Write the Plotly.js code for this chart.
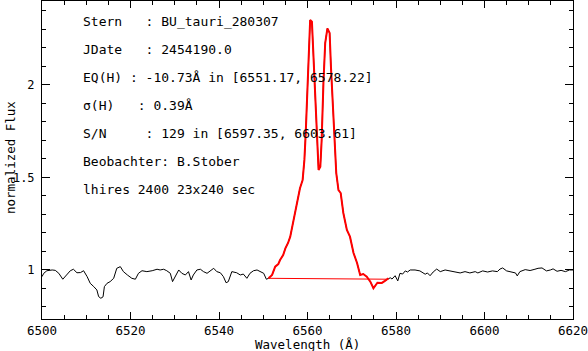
<!DOCTYPE html>
<html>
<head>
<meta charset="utf-8">
<script src="https://cdn.plot.ly/plotly-3.0.1.min.js"></script>
<style>html,body{margin:0;padding:0;background:#fff}#chart{width:588px;height:351px}</style>
</head>
<body>
<div id="chart"></div>
<script>
// Wavelength (Å) and normalized flux
const wavelength = [
6500.0, 6500.4, 6501.1, 6502.3, 6503.0, 6503.8, 6504.7, 6505.5, 6506.4, 6507.1, 6507.9, 6508.7, 6509.4, 6510.2, 6510.9, 6511.7, 6512.4, 6512.8, 6513.3, 6513.8, 6514.1, 6514.7, 6515.4, 6516.2, 6516.9, 6517.7, 6518.4, 6519.3, 6520.3, 6521.1, 6521.8, 6522.6, 6523.7, 6524.9, 6526.0, 6526.7, 6527.5, 6528.2, 6529.0, 6529.5, 6530.1, 6530.9, 6531.6, 6532.4, 6533.1, 6533.7, 6534.2, 6535.0, 6535.8, 6536.5, 6537.3, 6538.0, 6538.8, 6539.5, 6540.3, 6541.0, 6541.6, 6542.1, 6542.9, 6544.0, 6544.8, 6545.5, 6546.3, 6547.0, 6547.8, 6548.6, 6549.3, 6550.1, 6550.7, 6551.2,
6551.6, 6552.0, 6552.7, 6553.4, 6553.8, 6554.5, 6555.0, 6555.6, 6556.1, 6556.8, 6557.6, 6558.3, 6558.9, 6559.3, 6559.6, 6559.9, 6560.2, 6560.6, 6561.0, 6561.3, 6561.7, 6562.1, 6562.5, 6562.9, 6563.2, 6563.6, 6564.0, 6564.5, 6565.0, 6565.3, 6565.7, 6566.1, 6566.5, 6567.0, 6567.5, 6568.1, 6568.9, 6569.6, 6570.4, 6571.2, 6571.9, 6572.6, 6573.4, 6574.2, 6574.9, 6575.8, 6576.8, 6577.5, 6578.3,
6578.7, 6579.1, 6579.8, 6580.4, 6580.9, 6581.5, 6582.1, 6582.6, 6583.2, 6584.3, 6585.4, 6586.6, 6587.1, 6587.7, 6588.4, 6589.2, 6590.0, 6591.1, 6592.2, 6593.4, 6594.5, 6595.6, 6596.7, 6597.9, 6598.5, 6599.6, 6600.7, 6601.8, 6602.9, 6603.5, 6604.1, 6605.0, 6606.1, 6607.0, 6607.4, 6608.0, 6609.2, 6610.3, 6611.4, 6612.1, 6613.0, 6614.0, 6614.9, 6615.5, 6616.4, 6617.3, 6618.3, 6619.2, 6620.0
];
const flux = [
0.964, 0.982, 0.996, 1.000, 0.998, 0.982, 0.950, 0.973, 0.996, 1.004, 0.985, 0.986, 0.996, 0.964, 0.928, 0.910, 0.892, 0.856, 0.847, 0.855, 0.910, 0.928, 0.937, 0.955, 1.009, 1.018, 0.991, 0.973, 0.955, 0.950, 0.982, 0.996, 0.991, 0.996, 1.004, 1.000, 1.004, 0.996, 0.982, 0.937, 0.964, 1.000, 0.982, 0.973, 0.991, 0.946, 0.973, 1.000, 1.004, 0.991, 0.982, 0.996, 1.009, 0.991, 0.985, 0.964, 0.931, 0.937, 0.991, 0.985, 0.973, 0.978, 0.955, 0.982, 0.996, 1.000, 0.991, 0.982, 0.950, 0.955,
0.964, 0.973, 1.018, 1.032, 1.054, 1.081, 1.117, 1.146, 1.180, 1.270, 1.361, 1.442, 1.486, 1.595, 1.741, 1.919, 2.189, 2.351, 2.342, 2.189, 1.957, 1.741, 1.541, 1.558, 1.703, 2.011, 2.227, 2.306, 2.281, 2.099, 1.919, 1.741, 1.524, 1.432, 1.416, 1.308, 1.216, 1.180, 1.092, 1.038, 0.973, 0.978, 0.964, 0.937, 0.901, 0.931, 0.930, 0.941, 0.955,
0.958, 0.951, 0.969, 0.941, 0.982, 0.978, 0.995, 0.989, 1.000, 1.000, 0.995, 0.977, 0.984, 0.969, 0.989, 1.005, 0.991, 1.000, 0.995, 0.991, 0.984, 0.991, 0.984, 0.991, 0.984, 0.995, 0.989, 0.995, 0.991, 1.005, 1.011, 0.995, 0.991, 0.984, 0.968, 0.991, 1.002, 0.997, 1.004, 1.009, 1.011, 0.995, 1.000, 1.006, 0.993, 0.998, 0.991, 1.000, 1.000
];
// Integration window for EQ(H) and its continuum line
const eqWindow = [6551.17, 6578.3];
const baseWl = [6551.17, 6578.22];
const baseFlux = [0.955, 0.950];
const xTickVals = [6500, 6520, 6540, 6560, 6580, 6600, 6620];
const yTickVals = [1, 1.5, 2];

const textLines = [
  "Stern\u00a0\u00a0\u00a0:\u00a0BU_tauri_280307",
  "JDate\u00a0\u00a0\u00a0:\u00a02454190.0",
  "EQ(H)\u00a0:\u00a0-10.73Å\u00a0in\u00a0[6551.17,\u00a06578.22]",
  "σ(H)\u00a0\u00a0\u00a0:\u00a00.39Å",
  "S/N\u00a0\u00a0\u00a0\u00a0\u00a0:\u00a0129\u00a0in\u00a0[6597.35,\u00a06603.61]",
  "Beobachter:\u00a0B.Stober",
  "lhires\u00a02400\u00a023x240\u00a0sec"
];
const linePix = [22, 50, 78, 105, 133, 161, 189];

const redX = [], redY = [];
wavelength.forEach((w, i) => { if (w >= eqWindow[0] && w <= eqWindow[1]) { redX.push(w); redY.push(flux[i]); } });

const FONT = "DejaVu Sans Mono, monospace";
const L = 42, T = 1, PW = 531, PH = 318;
const annotations = textLines.map((t, i) => ({
  text: t, xref: 'paper', yref: 'paper',
  x: (81 - L) / PW, y: (PH + T - linePix[i]) / PH,
  xanchor: 'left', yanchor: 'middle', showarrow: false,
  font: {family: FONT, size: 13, color: '#000'}
}));
annotations.push({
  text: 'Wavelength (Å)', xref: 'paper', yref: 'paper', x: 0.5, y: (PH + T - 344) / PH,
  xanchor: 'center', yanchor: 'middle', showarrow: false, font: {family: FONT, size: 12.5, color: '#000'}
});
annotations.push({
  text: 'normalized Flux', xref: 'paper', yref: 'paper', x: (10 - L) / PW, y: (PH + T - 158) / PH,
  xanchor: 'center', yanchor: 'middle', textangle: -90, showarrow: false, font: {family: FONT, size: 12.5, color: '#000'}
});

const traces = [
  {x: wavelength, y: flux, mode: 'lines', line: {color: '#000', width: 1}, hoverinfo: 'skip'},
  {x: redX, y: redY, mode: 'lines', line: {color: '#ff0000', width: 2}, hoverinfo: 'skip'},
  {x: baseWl, y: baseFlux, mode: 'lines', line: {color: '#ff0000', width: 1}, hoverinfo: 'skip'}
];

const layout = {
  width: 588, height: 351,
  margin: {l: L, r: 588 - L - PW, t: T, b: 351 - T - PH, pad: 0},
  paper_bgcolor: '#fff', plot_bgcolor: '#fff',
  showlegend: false,
  font: {family: FONT, size: 12.5, color: '#000'},
  xaxis: {
    range: [6500, 6620], tickmode: 'array', tickvals: xTickVals, ticktext: xTickVals.map(String),
    ticks: 'inside', ticklen: 7, tickwidth: 1, tickcolor: '#000', ticklabeloverflow: 'allow',
    showline: true, linecolor: '#000', linewidth: 1, mirror: 'allticks', showgrid: false, zeroline: false,
    tickfont: {family: FONT, size: 12.5, color: '#000'},
    minor: {tickmode: 'linear', tick0: 6500, dtick: 5, ticks: 'inside', ticklen: 4, tickcolor: '#000', showgrid: false}
  },
  yaxis: {
    range: [0.735, 2.454], tickmode: 'array', tickvals: yTickVals, ticktext: ['1', '1.5', '2'],
    ticks: 'inside', ticklen: 8, tickwidth: 1, tickcolor: '#000',
    showline: true, linecolor: '#000', linewidth: 1, mirror: 'allticks', showgrid: false, zeroline: false,
    tickfont: {family: FONT, size: 12, color: '#000'}, ticklabelstandoff: 4,
    minor: {tickmode: 'linear', tick0: 0, dtick: 0.1, ticks: 'inside', ticklen: 4, tickcolor: '#000', showgrid: false}
  },
  annotations: annotations
};

Plotly.newPlot('chart', traces, layout, {displayModeBar: false, staticPlot: true});
</script>
</body>
</html>
